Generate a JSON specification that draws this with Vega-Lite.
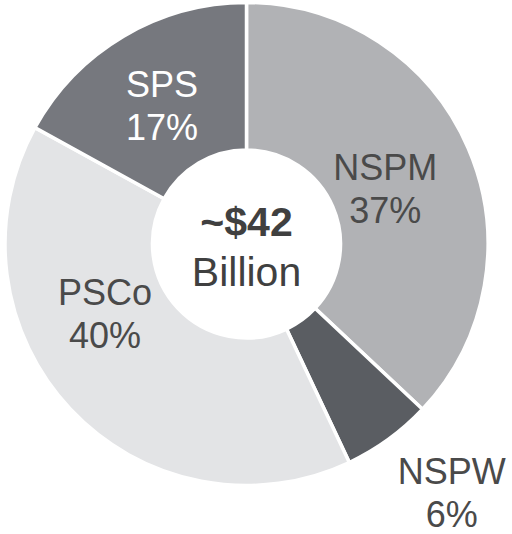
{
  "$schema": "https://vega.github.io/schema/vega-lite/v6.json",
  "width": 493,
  "height": 488,
  "autosize": "none",
  "padding": {"left": 0, "top": 0, "right": 19, "bottom": 46},
  "background": "white",
  "config": {"view": {"stroke": null}, "font": "Liberation Sans"},
  "data": {"values": [
    {"company": "NSPM", "share": 37, "label": "NSPM\n37%"},
    {"company": "NSPW", "share": 6, "label": "NSPW\n6%"},
    {"company": "PSCo", "share": 40, "label": "PSCo\n40%"},
    {"company": "SPS", "share": 17, "label": "SPS\n17%"}
  ]},
  "layer": [
    {
      "mark": {"type": "arc", "radius": 241.5, "radius2": 94, "stroke": "white", "strokeWidth": 3.5},
      "encoding": {
        "theta": {"field": "share", "type": "quantitative", "stack": true},
        "color": {"field": "company", "type": "nominal", "legend": null,
          "scale": {"domain": ["NSPM", "NSPW", "PSCo", "SPS"], "range": ["#b1b2b5", "#5a5d62", "#e3e4e6", "#76787e"]}},
        "order": {"field": "company", "sort": "ascending"}
      }
    },
    {
      "mark": {"type": "text", "radius": 150, "dx": 1, "dy": -15.5, "fontSize": 36, "lineBreak": "\n", "lineHeight": 43, "align": "center", "baseline": "middle", "color": "#4a4a4a"},
      "encoding": {
        "theta": {"field": "share", "type": "quantitative", "stack": true},
        "detail": {"field": "company", "type": "nominal"},
        "order": {"field": "company", "sort": "ascending"},
        "text": {"condition": {"test": "datum.company === 'NSPM'", "field": "label"}, "value": ""}
      }
    },
    {
      "mark": {"type": "text", "radius": 322, "dx": 16, "dy": -31.5, "fontSize": 36, "lineBreak": "\n", "lineHeight": 43, "align": "center", "baseline": "middle", "color": "#4a4a4a"},
      "encoding": {
        "theta": {"field": "share", "type": "quantitative", "stack": true},
        "detail": {"field": "company", "type": "nominal"},
        "order": {"field": "company", "sort": "ascending"},
        "text": {"condition": {"test": "datum.company === 'NSPW'", "field": "label"}, "value": ""}
      }
    },
    {
      "mark": {"type": "text", "radius": 157, "dx": -27, "dy": -57.5, "fontSize": 36, "lineBreak": "\n", "lineHeight": 43, "align": "center", "baseline": "middle", "color": "#4a4a4a"},
      "encoding": {
        "theta": {"field": "share", "type": "quantitative", "stack": true},
        "detail": {"field": "company", "type": "nominal"},
        "order": {"field": "company", "sort": "ascending"},
        "text": {"condition": {"test": "datum.company === 'PSCo'", "field": "label"}, "value": ""}
      }
    },
    {
      "mark": {"type": "text", "radius": 162, "dx": -2, "dy": -18.5, "fontSize": 36, "lineBreak": "\n", "lineHeight": 43, "align": "center", "baseline": "middle", "color": "white"},
      "encoding": {
        "theta": {"field": "share", "type": "quantitative", "stack": true},
        "detail": {"field": "company", "type": "nominal"},
        "order": {"field": "company", "sort": "ascending"},
        "text": {"condition": {"test": "datum.company === 'SPS'", "field": "label"}, "value": ""}
      }
    },
    {
      "data": {"values": [{"total": "~$42", "unit": "Billion"}]},
      "mark": {"type": "text", "dy": -20, "fontSize": 41, "fontWeight": "bold", "align": "center", "baseline": "middle", "color": "#404040"},
      "encoding": {"text": {"field": "total", "type": "nominal"}}
    },
    {
      "data": {"values": [{"total": "~$42", "unit": "Billion"}]},
      "mark": {"type": "text", "dy": 30, "fontSize": 41, "align": "center", "baseline": "middle", "color": "#404040"},
      "encoding": {"text": {"field": "unit", "type": "nominal"}}
    }
  ]
}
